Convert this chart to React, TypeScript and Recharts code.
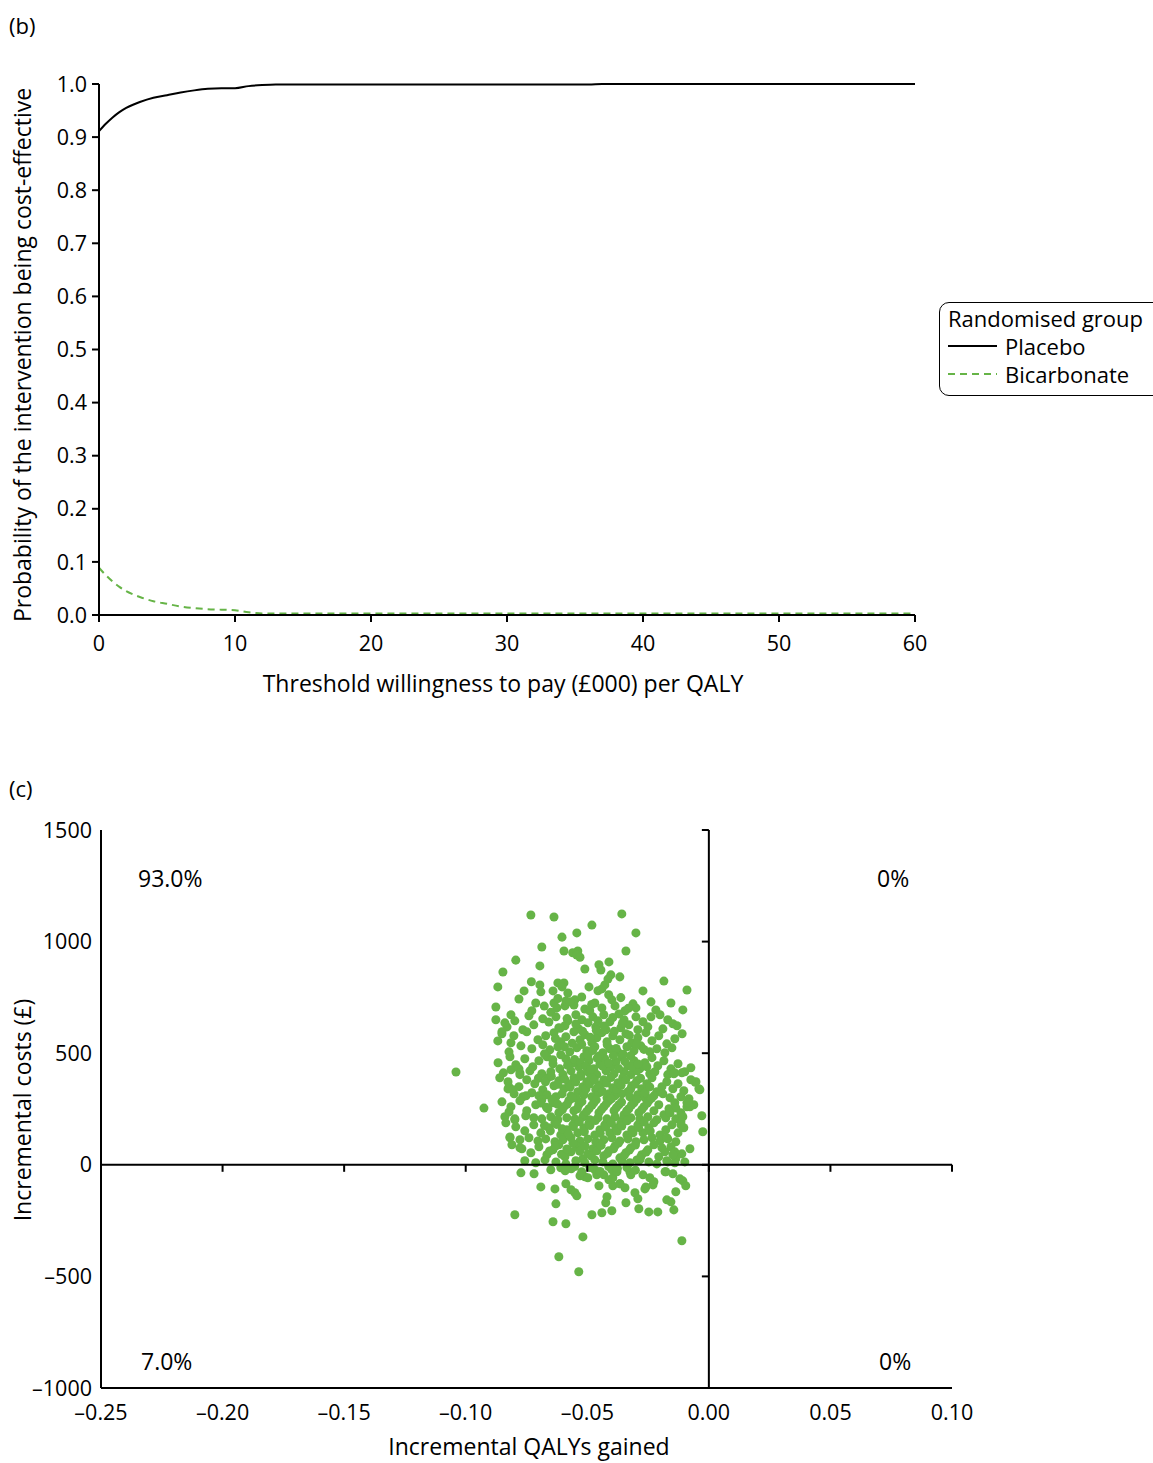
import { LineChart, Line, XAxis, YAxis, ScatterChart, Scatter, ZAxis } from "recharts"

const GREEN = "#66b447"
const FONT = '"Open Sans", "Noto Sans", sans-serif'

// (b) acceptability curve
const WTP = [0, 0.5, 1, 1.5, 2, 2.5, 3, 4, 5, 6, 7, 8, 9, 10, 11, 12, 13, 15, 20, 30, 36, 37, 40, 50, 60]
const PLACEBO = [0.911, 0.925, 0.937, 0.947, 0.955, 0.961, 0.966, 0.974, 0.979, 0.984, 0.988, 0.991, 0.992, 0.992, 0.996, 0.998, 0.999, 0.999, 0.999, 0.999, 0.999, 1.0, 1.0, 1.0, 1.0]
const BICARBONATE = [0.089, 0.075, 0.063, 0.053, 0.045, 0.039, 0.034, 0.026, 0.021, 0.016, 0.013, 0.011, 0.01, 0.009, 0.005, 0.003, 0.003, 0.003, 0.003, 0.003, 0.003, 0.003, 0.003, 0.003, 0.003]
const WTP_TICKS = [0, 10, 20, 30, 40, 50, 60]
const PROB_TICKS = [0, 0.1, 0.2, 0.3, 0.4, 0.5, 0.6, 0.7, 0.8, 0.9, 1.0]
const SERIES = [
  { key: "placebo", name: "Placebo", color: "#000", dash: undefined },
  { key: "bicarbonate", name: "Bicarbonate", color: GREEN, dash: "7 5" },
]

// (c) cost-effectiveness plane
const QALY_TICKS = [-0.25, -0.2, -0.15, -0.1, -0.05, 0, 0.05, 0.1]
const COST_TICKS = [-1000, -500, 0, 500, 1000, 1500]
const QUADRANT_LABELS = ["93.0%", "0%", "7.0%", "0%"]

// [incremental QALYs, incremental cost]
const SCATTER_POINTS: [number, number][] = [
  [-0.0732, 1119], [-0.0637, 1110], [-0.0358, 1124], [-0.0481, 1074], [-0.0543, 1039], [-0.03, 1039], [-0.0604, 1020],
  [-0.0687, 976], [-0.0596, 958], [-0.0539, 958], [-0.056, 950], [-0.0543, 940], [-0.053, 930], [-0.0341, 958],
  [-0.0794, 917], [-0.0695, 891], [-0.051, 877], [-0.0452, 896], [-0.0444, 873], [-0.0411, 909],
  [-0.0847, 864], [-0.0403, 851], [-0.0366, 842], [-0.0415, 832], [-0.0868, 797], [-0.073, 820], [-0.0695, 806],
  [-0.0621, 815], [-0.0596, 815], [-0.0493, 797], [-0.0456, 780], [-0.044, 788], [-0.0428, 806], [-0.0185, 823],
  [-0.009, 783], [-0.0271, 779], [-0.076, 779], [-0.0691, 775], [-0.0641, 779], [-0.0604, 797], [-0.058, 770],
  [-0.0781, 743], [-0.0876, 707], [-0.0712, 725], [-0.0637, 725], [-0.0625, 703], [-0.0592, 712], [-0.0588, 734],
  [-0.0551, 739], [-0.0555, 716], [-0.0399, 739], [-0.0386, 712], [-0.0312, 721], [-0.0238, 730], [-0.0156, 725],
  [-0.0728, 690], [-0.065, 683], [-0.051, 698], [-0.049, 690], [-0.0469, 725], [-0.044, 703], [-0.0345, 690],
  [-0.03, 703], [-0.0218, 694], [-0.0107, 694],
  [-0.0876, 650], [-0.0814, 672], [-0.074, 668], [-0.0683, 654], [-0.0658, 640], [-0.0629, 663], [-0.058, 645],
  [-0.0547, 672], [-0.0522, 650], [-0.0497, 636], [-0.0477, 663], [-0.0456, 645], [-0.0432, 672], [-0.0407, 641],
  [-0.0395, 660], [-0.037, 676], [-0.0349, 650], [-0.0329, 627], [-0.03, 663], [-0.0271, 641], [-0.0238, 663],
  [-0.0201, 672], [-0.0169, 650], [-0.0148, 632], [-0.083, 618], [-0.0765, 605], [-0.072, 627], [-0.0617, 614],
  [-0.0592, 623], [-0.0535, 609], [-0.0465, 618], [-0.0423, 605], [-0.0362, 614], [-0.0292, 605], [-0.0251, 618],
  [-0.0189, 609], [-0.0131, 623], [-0.0798, 645], [-0.0839, 636], [-0.0851, 596],
  [-0.0851, 587], [-0.0802, 578], [-0.0749, 596], [-0.0703, 560], [-0.0671, 578], [-0.0637, 592], [-0.0609, 551],
  [-0.0588, 574], [-0.0555, 596], [-0.053, 560], [-0.051, 583], [-0.0481, 547], [-0.0461, 569], [-0.044, 592],
  [-0.0419, 551], [-0.0395, 578], [-0.0366, 560], [-0.0341, 587], [-0.0317, 547], [-0.0292, 569], [-0.0259, 592],
  [-0.0234, 556], [-0.0206, 578], [-0.0173, 542], [-0.014, 565], [-0.011, 587], [-0.0773, 533], [-0.0728, 520],
  [-0.0683, 538], [-0.0654, 515], [-0.0621, 529], [-0.0572, 506], [-0.0543, 524], [-0.0502, 511], [-0.0469, 529],
  [-0.0436, 502], [-0.0407, 520], [-0.0374, 506], [-0.0337, 529], [-0.0308, 511], [-0.028, 533], [-0.0243, 506],
  [-0.0214, 520], [-0.0181, 502], [-0.0152, 524], [-0.0822, 506], [-0.0868, 555], [-0.0814, 547],
  [-0.0867, 457], [-0.0818, 484], [-0.0794, 448], [-0.0757, 475], [-0.0724, 439], [-0.0699, 466], [-0.0666, 484],
  [-0.0641, 453], [-0.0613, 430], [-0.0588, 475], [-0.0559, 457], [-0.0535, 439], [-0.0514, 484], [-0.0493, 466],
  [-0.0473, 430], [-0.0448, 453], [-0.0428, 475], [-0.0403, 439], [-0.0382, 462], [-0.0358, 484], [-0.0333, 444],
  [-0.0308, 466], [-0.0284, 430], [-0.0263, 457], [-0.0234, 480], [-0.021, 444], [-0.0185, 466], [-0.0156, 430],
  [-0.0127, 453], [-0.0099, 417], [-0.0074, 435], [-0.0845, 412], [-0.0777, 404], [-0.0736, 421], [-0.0687, 408],
  [-0.065, 417], [-0.06, 404], [-0.0567, 421], [-0.0526, 408], [-0.0498, 417], [-0.0461, 404], [-0.0423, 421],
  [-0.039, 408], [-0.0349, 417], [-0.0321, 404], [-0.0296, 421], [-0.0243, 408], [-0.0222, 417], [-0.0169, 404],
  [-0.014, 412], [-0.0056, 370], [-0.104, 416], [-0.0814, 426], [-0.0781, 430], [-0.0777, 412], [-0.0111, 412],
  [-0.0144, 408], [-0.0053, 372],
  [-0.086, 390], [-0.0826, 372], [-0.0781, 350], [-0.0749, 381], [-0.0716, 363], [-0.0683, 336], [-0.0662, 390],
  [-0.0637, 354], [-0.0617, 377], [-0.0596, 341], [-0.0576, 363], [-0.0555, 390], [-0.0539, 327], [-0.0518, 350],
  [-0.0502, 372], [-0.0485, 395], [-0.0465, 336], [-0.0448, 359], [-0.0432, 381], [-0.0411, 318], [-0.0395, 345],
  [-0.0374, 368], [-0.0354, 390], [-0.0333, 327], [-0.0317, 354], [-0.0296, 377], [-0.0276, 341], [-0.0255, 363],
  [-0.0234, 390], [-0.0214, 327], [-0.0193, 350], [-0.0173, 372], [-0.0148, 341], [-0.0127, 363], [-0.0103, 332],
  [-0.0074, 381], [-0.0041, 341], [-0.0801, 318], [-0.0765, 305], [-0.0728, 323], [-0.0699, 309], [-0.0666, 314],
  [-0.0629, 305], [-0.0604, 318], [-0.0567, 309], [-0.0547, 300], [-0.0514, 314], [-0.0481, 305], [-0.0452, 323],
  [-0.0419, 300], [-0.0386, 309], [-0.0358, 318], [-0.0325, 305], [-0.0292, 314], [-0.0263, 300], [-0.0226, 309],
  [-0.0189, 318], [-0.016, 300], [-0.0115, 305], [-0.0082, 296], [-0.0822, 349], [-0.0826, 340], [-0.0806, 336],
  [-0.0037, 336], [-0.0752, 309],
  [-0.0851, 282], [-0.0814, 260], [-0.0777, 287], [-0.0749, 242], [-0.0712, 269], [-0.0687, 291], [-0.0662, 251],
  [-0.0641, 278], [-0.0617, 233], [-0.0596, 260], [-0.0576, 287], [-0.0555, 242], [-0.0535, 269], [-0.0514, 224],
  [-0.0493, 251], [-0.0473, 278], [-0.0452, 233], [-0.0432, 260], [-0.0411, 287], [-0.039, 242], [-0.037, 269],
  [-0.0349, 224], [-0.0329, 251], [-0.0308, 278], [-0.0288, 233], [-0.0267, 260], [-0.0247, 287], [-0.0226, 242],
  [-0.0206, 269], [-0.0185, 224], [-0.0164, 251], [-0.014, 278], [-0.0115, 233], [-0.009, 260], [-0.0062, 269],
  [-0.0029, 220], [-0.0839, 215], [-0.0798, 206], [-0.0753, 220], [-0.072, 211], [-0.0687, 206], [-0.065, 215],
  [-0.0621, 202], [-0.0584, 211], [-0.0551, 206], [-0.0518, 215], [-0.0489, 202], [-0.0456, 211], [-0.0419, 206],
  [-0.0386, 215], [-0.0354, 202], [-0.0321, 211], [-0.0284, 206], [-0.0251, 215], [-0.0214, 202], [-0.0177, 211],
  [-0.0136, 206], [-0.0107, 215], [-0.0925, 254], [-0.0822, 237], [-0.0798, 202], [-0.009, 278], [-0.0078, 260],
  [-0.0086, 278], [-0.0136, 255], [-0.016, 233],
  [-0.0835, 188], [-0.0794, 170], [-0.0757, 152], [-0.072, 179], [-0.0691, 143], [-0.0658, 166], [-0.0633, 188],
  [-0.0609, 134], [-0.0584, 157], [-0.0559, 179], [-0.0539, 143], [-0.0514, 166], [-0.0493, 188], [-0.0469, 134],
  [-0.0448, 157], [-0.0428, 179], [-0.0407, 143], [-0.0382, 166], [-0.0362, 188], [-0.0337, 134], [-0.0317, 157],
  [-0.0292, 179], [-0.0271, 143], [-0.0247, 166], [-0.0226, 188], [-0.0201, 134], [-0.0177, 157], [-0.0152, 179],
  [-0.0127, 143], [-0.0103, 166], [-0.0025, 148], [-0.0818, 125], [-0.0777, 112], [-0.074, 121], [-0.0703, 107],
  [-0.0671, 116], [-0.0633, 103], [-0.06, 112], [-0.0567, 121], [-0.053, 107], [-0.0498, 116], [-0.0465, 103],
  [-0.0432, 112], [-0.0399, 121], [-0.0366, 107], [-0.0333, 116], [-0.03, 103], [-0.0267, 112], [-0.0234, 121],
  [-0.0201, 107], [-0.0169, 116], [-0.0136, 103], [-0.0818, 121], [-0.0115, 193], [-0.0115, 179], [-0.0173, 121],
  [-0.081, 90], [-0.0769, 72], [-0.0732, 54], [-0.0699, 81], [-0.0666, 45], [-0.0641, 67], [-0.0617, 90],
  [-0.0592, 36], [-0.0567, 58], [-0.0543, 81], [-0.0518, 27], [-0.0498, 49], [-0.0477, 72], [-0.0452, 94],
  [-0.0432, 40], [-0.0411, 63], [-0.0386, 85], [-0.0366, 31], [-0.0341, 54], [-0.0321, 76], [-0.0296, 22],
  [-0.0276, 45], [-0.0251, 67], [-0.0226, 90], [-0.0206, 36], [-0.0181, 58], [-0.0156, 81], [-0.0136, 27],
  [-0.0111, 49], [-0.0078, 72], [-0.0757, 18], [-0.0712, 9], [-0.0674, 22], [-0.0629, 13], [-0.0588, 4],
  [-0.0547, 18], [-0.051, 9], [-0.0469, 22], [-0.0436, 13], [-0.0395, 4], [-0.0358, 18], [-0.0325, 9],
  [-0.0284, 22], [-0.0247, 13], [-0.0214, 4], [-0.0173, 18], [-0.014, 9], [-0.0099, 13], [-0.0777, 76],
  [-0.0193, 76], [-0.014, 58], [-0.0148, 45], [-0.0169, 13],
  [-0.0773, -36], [-0.0691, -99], [-0.0633, -108], [-0.0588, -85], [-0.0567, -112], [-0.0551, -125], [-0.0543, -139],
  [-0.0629, -175], [-0.0798, -224], [-0.0641, -255], [-0.0588, -264], [-0.0518, -323], [-0.0617, -412], [-0.0535, -479],
  [-0.0481, -224], [-0.044, -215], [-0.0399, -206], [-0.0424, -170], [-0.0419, -143], [-0.0452, -94], [-0.0395, -94],
  [-0.0341, -170], [-0.0345, -103], [-0.0366, -85], [-0.0304, -125], [-0.0292, -152], [-0.0288, -197], [-0.0247, -211],
  [-0.021, -211], [-0.0144, -202], [-0.0173, -157], [-0.0156, -166], [-0.0136, -121], [-0.0107, -72], [-0.0095, -94],
  [-0.0111, -340], [-0.0259, -99], [-0.0263, -108], [-0.023, -90], [-0.0271, -45], [-0.0243, -58], [-0.0177, -31],
  [-0.0148, -40], [-0.053, -49], [-0.051, -54], [-0.0498, -58], [-0.0469, -22], [-0.0461, -45], [-0.0432, -45],
  [-0.0411, -67], [-0.0395, -58], [-0.0366, -85], [-0.0399, -22], [-0.0378, -31], [-0.0325, -31], [-0.0321, -45],
  [-0.065, -22], [-0.0609, -13], [-0.018, -31], [-0.0119, -63], [-0.0226, -76], [-0.0719, -40], [-0.0566, -18],
  // denser middle of the cloud
  [-0.0612, 612], [-0.0583, 655], [-0.0547, 631], [-0.0519, 598], [-0.0488, 571], [-0.0463, 603], [-0.0431, 622],
  [-0.0389, 598], [-0.0356, 633], [-0.0327, 580], [-0.0631, 566], [-0.0594, 529], [-0.0562, 545], [-0.0523, 539],
  [-0.0497, 493], [-0.0478, 512], [-0.0452, 487], [-0.0418, 538], [-0.0381, 521], [-0.0352, 495], [-0.0322, 488],
  [-0.0296, 542], [-0.0267, 517], [-0.0676, 497], [-0.0642, 471], [-0.0609, 493], [-0.0581, 446], [-0.0552, 472],
  [-0.0528, 458], [-0.0506, 441], [-0.0487, 427], [-0.0459, 478], [-0.0437, 442], [-0.0412, 456], [-0.0393, 489],
  [-0.0371, 431], [-0.0345, 462], [-0.0316, 439], [-0.0291, 452], [-0.0255, 439], [-0.0701, 388], [-0.0672, 372],
  [-0.0648, 397], [-0.0621, 361], [-0.0593, 384], [-0.0571, 348], [-0.0548, 371], [-0.0527, 396], [-0.0506, 339],
  [-0.0491, 362], [-0.0471, 381], [-0.0457, 347], [-0.0438, 329], [-0.0421, 366], [-0.0403, 391], [-0.0379, 337],
  [-0.0361, 356], [-0.0342, 381], [-0.0322, 339], [-0.0303, 362], [-0.0281, 388], [-0.0262, 322], [-0.0243, 349],
  [-0.0691, 277], [-0.0668, 258], [-0.0645, 292], [-0.0622, 271], [-0.0603, 246], [-0.0583, 271], [-0.0561, 298],
  [-0.0541, 251], [-0.0522, 283], [-0.0503, 238], [-0.0481, 267], [-0.0463, 291], [-0.0442, 247], [-0.0422, 273],
  [-0.0401, 296], [-0.0381, 255], [-0.0359, 281], [-0.0338, 241], [-0.0318, 268], [-0.0297, 293], [-0.0276, 247],
  [-0.0254, 275], [-0.0236, 298], [-0.0676, 176], [-0.0652, 152], [-0.0627, 181], [-0.0603, 161], [-0.0578, 139],
  [-0.0557, 171], [-0.0533, 193], [-0.0512, 148], [-0.0489, 176], [-0.0467, 198], [-0.0447, 141], [-0.0424, 169],
  [-0.0401, 187], [-0.0377, 151], [-0.0358, 174], [-0.0336, 197], [-0.0312, 143], [-0.0289, 167], [-0.0266, 192],
  [-0.0241, 151], [-0.0655, 62], [-0.0631, 84], [-0.0606, 47], [-0.0584, 71], [-0.0559, 96], [-0.0531, 61],
  [-0.0509, 83], [-0.0483, 39], [-0.0461, 63], [-0.0443, 87], [-0.0417, 51], [-0.0392, 72], [-0.0372, 97],
  [-0.0348, 42], [-0.0327, 66], [-0.0302, 89], [-0.0281, 33], [-0.0258, 57], [-0.0591, -27], [-0.0552, -8],
  [-0.0523, -31], [-0.0489, -12], [-0.0447, -30], [-0.0412, -8], [-0.0376, -16], [-0.0337, -12], [-0.0302, -24],
  [-0.0571, 731], [-0.0523, 752], [-0.0482, 718], [-0.0412, 762], [-0.0362, 749], [-0.0331, 701], [-0.0621, 745],
  [-0.0677, 711],
]

const ceacData = WTP.map((wtp, i) => ({ wtp, placebo: PLACEBO[i], bicarbonate: BICARBONATE[i] }))
const planeData = SCATTER_POINTS.map(([qaly, cost]) => ({ qaly, cost }))

const tickStyle = { fill: "#000", fontSize: 21.5 }
const fmtSigned = (v: number, d: number) => (v < 0 ? "\u2013" : "") + Math.abs(v).toFixed(d)
const noLabel = () => ""

const abs = (left: number, top: number): React.CSSProperties => ({ position: "absolute", left, top })

function AxisTitle({ text, cx, cy, rotate }: { text: string; cx: number; cy: number; rotate?: boolean }) {
  return (
    <div
      style={{
        position: "absolute",
        left: cx - 350,
        top: cy - 13,
        width: 700,
        height: 26,
        lineHeight: "26px",
        textAlign: "center",
        fontSize: 23,
        whiteSpace: "nowrap",
        transform: rotate ? "rotate(-90deg)" : undefined,
      }}
    >
      {text}
    </div>
  )
}

function CeacLegend() {
  return (
    <div
      style={{
        ...abs(939, 302),
        width: 224,
        height: 94,
        border: "1.5px solid #000",
        borderRadius: 10,
        fontSize: 22,
        lineHeight: "28px",
        paddingTop: 1,
        paddingLeft: 8,
        boxSizing: "border-box",
        whiteSpace: "nowrap",
      }}
    >
      <div>Randomised group</div>
      {SERIES.map((s) => (
        <div key={s.key} style={{ display: "flex", alignItems: "center", height: 28 }}>
          <svg width={57} height={10}>
            <line x1={0} y1={5} x2={49} y2={5} stroke={s.color} strokeWidth={2} strokeDasharray={s.dash} />
          </svg>
          <span>{s.name}</span>
        </div>
      ))}
    </div>
  )
}

export default function App() {
  return (
    <div style={{ position: "absolute", left: 0, top: 0, width: 1153, height: 1463, overflow: "hidden", background: "#fff", fontFamily: FONT, color: "#000" }}>
      <div style={{ ...abs(9, 10), fontSize: 22 }}>(b)</div>
      <div style={{ ...abs(9, 773), fontSize: 22 }}>(c)</div>

      {/* (b) CEAC */}
      <div style={abs(0, 0)}>
        <LineChart width={1153} height={720} data={ceacData} margin={{ top: 84, right: 238, bottom: 65, left: 39 }}>
          <XAxis
            dataKey="wtp"
            type="number"
            domain={[0, 60]}
            ticks={WTP_TICKS}
            interval={0}
            height={40}
            tickSize={7}
            tickMargin={14}
            stroke="#000"
            strokeWidth={2}
            tick={tickStyle}
          />
          <YAxis
            type="number"
            domain={[0, 1]}
            ticks={PROB_TICKS}
            interval={0}
            width={60}
            tickSize={7}
            tickMargin={5}
            stroke="#000"
            strokeWidth={2}
            tick={tickStyle}
            tickFormatter={(v: number) => v.toFixed(1)}
          />
          {SERIES.map((s) => (
            <Line
              key={s.key}
              dataKey={s.key}
              type="monotone"
              stroke={s.color}
              strokeWidth={2}
              strokeDasharray={s.dash}
              dot={false}
              isAnimationActive={false}
            />
          ))}
        </LineChart>
      </div>
      <AxisTitle text="Threshold willingness to pay (£000) per QALY" cx={503} cy={683} />
      <AxisTitle text="Probability of the intervention being cost-effective" cx={22} cy={355} rotate />
      <CeacLegend />

      {/* (c) cost-effectiveness plane */}
      <div style={abs(0, 0)}>
        <ScatterChart width={1153} height={1463} margin={{ top: 830, right: 201, bottom: 35, left: 41 }}>
          <XAxis
            dataKey="qaly"
            type="number"
            domain={[-0.25, 0.1]}
            ticks={QALY_TICKS}
            interval={0}
            height={40}
            tickLine={false}
            tickSize={0}
            tickMargin={17}
            stroke="#000"
            strokeWidth={2}
            tick={tickStyle}
            tickFormatter={(v: number) => fmtSigned(v, 2)}
          />
          <YAxis
            dataKey="cost"
            type="number"
            domain={[-1000, 1500]}
            ticks={COST_TICKS}
            interval={0}
            width={60}
            tickLine={false}
            tickSize={0}
            tickMargin={9}
            stroke="#000"
            strokeWidth={2}
            tick={tickStyle}
            tickFormatter={(v: number) => fmtSigned(v, 0)}
          />
          <ZAxis range={[30, 30]} />
          <Scatter data={planeData} fill={GREEN} isAnimationActive={false} />
        </ScatterChart>
      </div>

      {/* horizontal axis through cost = 0 (ticks point down) */}
      <div style={abs(0, 0)}>
        <ScatterChart width={1153} height={1463} margin={{ top: 830, right: 201, bottom: 288.2, left: 41 }}>
          <XAxis
            dataKey="qaly"
            type="number"
            domain={[-0.25, 0.1]}
            allowDataOverflow
            ticks={QALY_TICKS}
            interval={0}
            height={10}
            tickSize={7}
            tickFormatter={noLabel}
            stroke="#000"
            strokeWidth={2}
          />
          <YAxis
            dataKey="cost"
            type="number"
            domain={[0, 1500]}
            allowDataOverflow
            width={60}
            axisLine={false}
            tickLine={false}
            tick={false}
          />
          <ZAxis range={[1, 1]} />
          <Scatter data={planeData} fill="none" isAnimationActive={false} />
        </ScatterChart>
      </div>

      {/* vertical axis through QALY = 0 (ticks point left) */}
      <div style={abs(0, 0)}>
        <ScatterChart width={1153} height={1463} margin={{ top: 830, right: 201, bottom: 35, left: 648.86 }}>
          <XAxis
            dataKey="qaly"
            type="number"
            domain={[0, 0.1]}
            allowDataOverflow
            height={40}
            axisLine={false}
            tickLine={false}
            tick={false}
          />
          <YAxis
            dataKey="cost"
            type="number"
            domain={[-1000, 1500]}
            allowDataOverflow
            ticks={COST_TICKS}
            interval={0}
            width={60}
            tickSize={7}
            tickFormatter={noLabel}
            stroke="#000"
            strokeWidth={2}
          />
          <ZAxis range={[1, 1]} />
          <Scatter data={planeData} fill="none" isAnimationActive={false} />
        </ScatterChart>
      </div>

      <div style={{ ...abs(138, 862), fontSize: 23 }}>{QUADRANT_LABELS[0]}</div>
      <div style={{ ...abs(877, 862), fontSize: 23 }}>{QUADRANT_LABELS[1]}</div>
      <div style={{ ...abs(141, 1345), fontSize: 23 }}>{QUADRANT_LABELS[2]}</div>
      <div style={{ ...abs(879, 1345), fontSize: 23 }}>{QUADRANT_LABELS[3]}</div>
      <AxisTitle text="Incremental costs (£)" cx={22} cy={1110} rotate />
      <AxisTitle text="Incremental QALYs gained" cx={529} cy={1446} />
    </div>
  )
}
